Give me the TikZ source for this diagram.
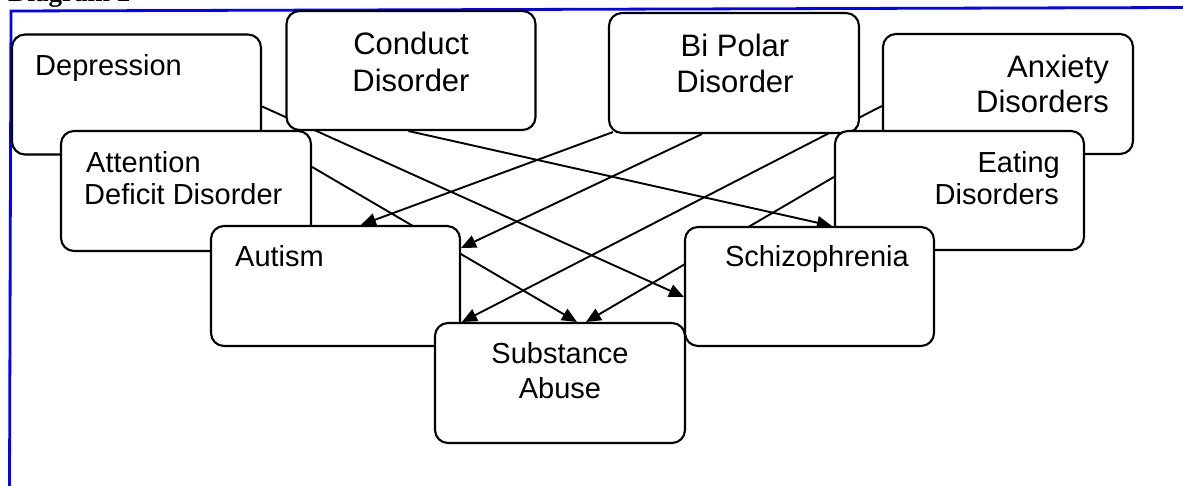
\documentclass[tikz,border=0pt]{standalone}
\usepackage{fontspec}
\setmainfont{Liberation Sans}
\newfontfamily\headfont{Liberation Serif}
\usetikzlibrary{arrows.meta,calc}
\pgfdeclarelayer{wires}
\pgfsetlayers{wires,main}
\begin{document}
\begin{tikzpicture}[x=1pt,y=-1pt,
  box/.style={draw, line width=2.1pt, fill=white, rounded corners=13pt,
    minimum width=249pt, minimum height=120pt, inner sep=0pt},
  lbl/.style={inner sep=0pt, font=\fontsize{29}{33}\selectfont},
  biglbl/.style={inner sep=0pt, font=\fontsize{31}{36}\selectfont},
  link/.style={line width=1.9pt, -{Triangle[length=15pt,width=13pt]}},
  frame/.style={draw=blue, line width=2.8pt, line join=miter}]
\useasboundingbox (0,0) rectangle (1183,486);

% heading, mostly above the page edge
\node[anchor=base west, inner sep=0pt,
  font={\headfont\bfseries\fontsize{27}{30}\selectfont}] (title) at (8,2) {Diagram 2};

% blue frame
\draw[frame] (9.5,486) -- (11,11) -- (1183,7.5);

% disorder boxes, back to front
\node[box] (dep) at (136.5,94.5) {};
\node[lbl, anchor=base west] (dep-t) at (35,76) {Depression};

\node[box, minimum height=119pt] (con) at (411,70.5) {};
\node[biglbl, anchor=base] (con-t1) at (411,55) {Conduct};
\node[biglbl, anchor=base] (con-t2) at (411,92) {Disorder};

\node[box, minimum width=250pt] (bip) at (734,73) {};
\node[biglbl, anchor=base] (bip-t1) at (735,57) {Bi Polar};
\node[biglbl, anchor=base] (bip-t2) at (735,93) {Disorder};

\node[box, minimum width=250pt] (anx) at (1008,94) {};
\node[biglbl, anchor=base east] (anx-t1) at (1109,78) {Anxiety};
\node[biglbl, anchor=base east] (anx-t2) at (1109,113) {Disorders};

\node[box, minimum width=250pt] (att) at (186,191) {};
\node[lbl, anchor=base west] (att-t1) at (86,173) {Attention};
\node[lbl, anchor=base west] (att-t2) at (84,205) {Deficit Disorder};

\node[box, minimum height=119pt] (eat) at (959.5,190.5) {};
\node[lbl, anchor=base east] (eat-t1) at (1060,173) {Eating};
\node[lbl, anchor=base east] (eat-t2) at (1059,205) {Disorders};

\node[box] (aut) at (335.5,286) {};
\node[lbl, anchor=base west] (aut-t) at (235,267) {Autism};

\node[box, minimum height=119pt] (sch) at (809.5,286.5) {};
\node[lbl, anchor=base east] (sch-t) at (909,267) {Schizophrenia};

\node[box, minimum width=250pt] (sub) at (560,383) {};
\node[lbl, anchor=base] (sub-t1) at (560,363) {Substance};
\node[lbl, anchor=base] (sub-t2) at (560,398) {Abuse};

% links run behind the boxes
\begin{pgfonlayer}{wires}
\draw[link] ($(dep.north east)+(0,73)$) -- ($(sch.north west)+(0,71)$);
\draw[link] ($(con.south west)+(123,0)$) -- ($(sch.north west)+(148,0)$);
\draw[link] ($(bip.south west)+(5,-2)$) -- ($(aut.north west)+(151,0)$);
\draw[link] ($(bip.south west)+(94,0)$) -- ($(aut.north east)+(0,23)$);
\draw[link] ($(att.north east)+(0,37)$) -- ($(sub.north west)+(143,0)$);
\draw[link] ($(anx.north west)+(0,73)$) -- ($(sub.north west)+(28,0)$);
\draw[link] ($(eat.north west)+(0,47)$) -- ($(sub.north west)+(152,0)$);
\end{pgfonlayer}
\end{tikzpicture}
\end{document}
